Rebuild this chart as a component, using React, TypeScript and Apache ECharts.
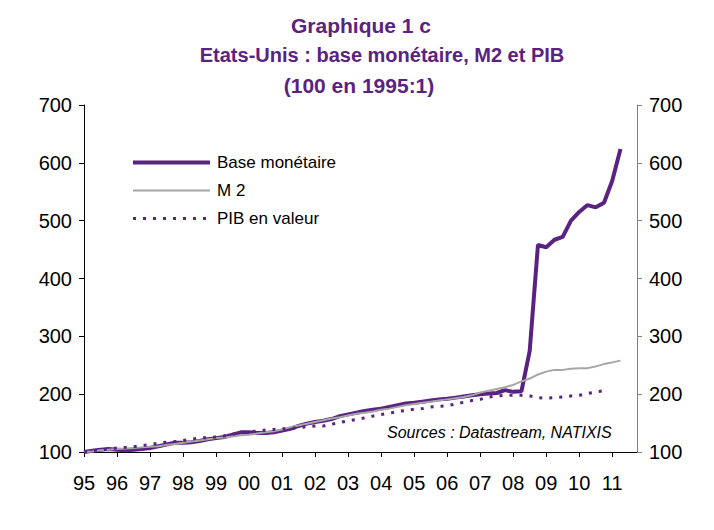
import React, { useEffect, useRef } from "react";
import * as echarts from "echarts";

const START_YEAR = 1995; // first quarter 1995:1, quarterly observations
const X_MIN = 1995;
const X_MAX = 2011.75;
const Y_TICKS = [100, 200, 300, 400, 500, 600, 700];

const baseMonetaire = [
  100, 102, 104, 105, 104, 103, 104, 105, 107, 110, 113, 116, 116, 117, 119, 122,
  124, 126, 130, 134, 134, 133, 133, 134, 137, 140, 145, 149, 152, 154, 157, 162,
  165, 168, 171, 173, 175, 178, 181, 184, 185, 187, 189, 191, 192, 194, 196, 198,
  200, 201, 202, 207, 204, 205, 275, 458, 454, 467, 472, 500, 515, 527, 523, 531,
  569, 624,
];

const m2 = [
  100, 101, 103, 104, 105, 106, 107, 108, 109, 110, 112, 114, 116, 118, 120, 122,
  124, 125, 127, 129, 130, 132, 134, 136, 139, 143, 146, 149, 152, 155, 158, 160,
  163, 166, 168, 170, 173, 175, 178, 181, 183, 185, 187, 189, 191, 193, 195, 198,
  203, 206, 209, 212, 216, 222, 227, 234, 239, 242, 242, 244, 245, 245, 248, 252,
  255, 258,
];

const pibValeur = [
  100, 102, 104, 105, 107, 108, 109, 111, 113, 115, 117, 118, 120, 122, 124, 125,
  126, 128, 131, 133, 135, 136, 138, 139, 140, 141, 142, 144, 145, 145, 148, 151,
  154, 156, 159, 162, 165, 167, 170, 172, 174, 175, 178, 179, 180, 183, 186, 189,
  191, 195, 197, 198, 198, 198, 197, 194, 193, 194, 195, 197, 198, 201, 204, 206,
];

const SERIES_NAMES = ["Base monétaire", "M 2", "PIB en valeur"];
const TITLE_LINES = ["Graphique 1 c", "Etats-Unis : base monétaire, M2 et PIB", "(100 en 1995:1)"];
const SOURCE_TEXT = "Sources : Datastream, NATIXIS";

const PURPLE = "#5a2382";
const GREY = "#a6a6a6";
const FONT = "'Liberation Sans', Arial, sans-serif";

const LINE_STYLES = [
  { color: PURPLE, width: 4, type: "solid" as any },
  { color: GREY, width: 2, type: "solid" as any },
  { color: PURPLE, width: 3, type: [3, 7] as any },
];

const toPairs = (arr: number[]) => arr.map((v, i) => [START_YEAR + i / 4, v]);

export default function App() {
  const ref = useRef<HTMLDivElement>(null);

  useEffect(() => {
    if (!ref.current) return;
    const chart = echarts.init(ref.current, undefined, { renderer: "svg" });

    const yAxisCommon = {
      type: "value" as const,
      min: Y_TICKS[0],
      max: Y_TICKS[Y_TICKS.length - 1],
      interval: 100,
      splitLine: { show: false },
      axisTick: { show: true, inside: false, length: 5, lineStyle: { color: "#000" } },
      axisLabel: { fontSize: 20, color: "#000", fontFamily: FONT, margin: 12 },
    };

    const seriesData = [baseMonetaire, m2, pibValeur];

    const titleText = (text: string, x: number, y: number, size: number) => ({
      type: "text",
      x,
      y,
      style: {
        text,
        fill: PURPLE,
        font: `bold ${size}px ${FONT}`,
        textAlign: "center",
        textVerticalAlign: "middle",
      },
    });

    chart.setOption({
      animation: false,
      backgroundColor: "#fff",
      grid: { left: 84, right: 77, top: 105, bottom: 78, containLabel: false },
      legend: {
        orient: "vertical",
        left: 131,
        top: 154,
        padding: 0,
        itemWidth: 77,
        itemHeight: 14,
        itemGap: 11,
        data: SERIES_NAMES.map((name, i) => ({
          name,
          itemStyle: { opacity: 0 },
          lineStyle: { ...LINE_STYLES[i] },
        })),
        textStyle: { fontSize: 17, color: "#000", fontFamily: FONT, padding: [0, 0, 0, 2] },
      },
      xAxis: {
        type: "value",
        min: X_MIN,
        max: X_MAX,
        interval: 1,
        splitLine: { show: false },
        axisLine: { onZero: false, lineStyle: { color: "#000", width: 1 } },
        axisTick: { show: true, inside: false, length: 5, lineStyle: { color: "#000" } },
        axisLabel: {
          fontSize: 20,
          color: "#000",
          fontFamily: FONT,
          margin: 21,
          showMaxLabel: false,
          formatter: (v: number) =>
            Math.abs(v - Math.round(v)) < 1e-6 ? String(Math.round(v)).slice(2) : "",
        },
      },
      yAxis: [
        {
          ...yAxisCommon,
          position: "left",
          axisLine: { show: true, lineStyle: { color: "#000", width: 1 } },
        },
        {
          ...yAxisCommon,
          position: "right",
          axisLine: { show: true, lineStyle: { color: "#808080", width: 1 } },
          axisTick: { show: true, inside: false, length: 5, lineStyle: { color: "#808080" } },
        },
      ],
      series: SERIES_NAMES.map((name, i) => ({
        name,
        type: "line",
        data: toPairs(seriesData[i]),
        showSymbol: false,
        symbol: "none",
        color: LINE_STYLES[i].color,
        lineStyle: { ...LINE_STYLES[i] },
        z: 2 + i,
      })),
      graphic: [
        titleText(TITLE_LINES[0], 361, 25, 21),
        titleText(TITLE_LINES[1], 382, 55, 20),
        titleText(TITLE_LINES[2], 359, 85, 21),
        {
          type: "text",
          x: 387,
          y: 432,
          style: {
            text: SOURCE_TEXT,
            fill: "#000",
            font: `italic 16px ${FONT}`,
            textAlign: "left",
            textVerticalAlign: "middle",
          },
        },
      ],
    });

    return () => chart.dispose();
  }, []);

  return (
    <div
      ref={ref}
      style={{ position: "fixed", left: 0, top: 0, width: 714, height: 530, background: "#fff" }}
    />
  );
}
